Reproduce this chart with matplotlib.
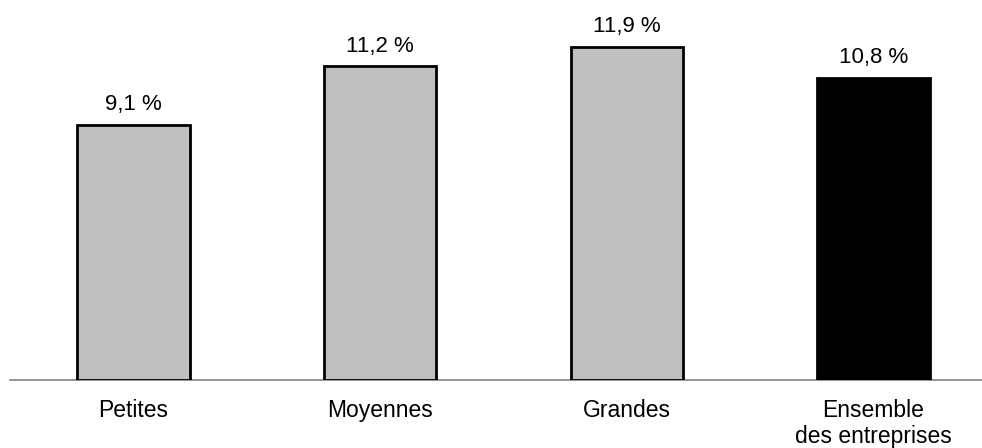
import matplotlib.pyplot as plt

categories = ["Petites", "Moyennes", "Grandes", "Ensemble\ndes entreprises"]
values = [9.1, 11.2, 11.9, 10.8]
value_labels = ["9,1 %", "11,2 %", "11,9 %", "10,8 %"]
colors = ["#c0c0c0", "#c0c0c0", "#c0c0c0", "#000000"]

plt.rcParams['font.family'] = ['Liberation Sans', 'DejaVu Sans']

fig = plt.figure(figsize=(9.82, 4.48), dpi=100)
ax = fig.add_axes([10 / 982, 68 / 448, 972 / 982, 380 / 448])

x = list(range(len(categories)))
bars = ax.bar(x, values, width=0.455, color=colors, edgecolor="black", linewidth=2, zorder=2)

for xi, v, lab in zip(x, values, value_labels):
    ax.annotate(lab, (xi, v), xytext=(0, 7), textcoords="offset points",
                ha="center", va="bottom", fontsize=16)

ax.set_xlim(-0.501, 3.44)
ax.set_ylim(0, 13.57)
ax.set_yticks([])
ax.set_xticks(x)
ax.set_xticklabels(categories, fontsize=16.5, linespacing=1.12)
ax.tick_params(axis="x", length=0, pad=14)
for side in ["top", "right", "left"]:
    ax.spines[side].set_visible(False)
ax.spines["bottom"].set_color("#808080")
ax.spines["bottom"].set_linewidth(1.2)
ax.spines["bottom"].set_zorder(1)

fig.savefig("out.png", dpi=100)
